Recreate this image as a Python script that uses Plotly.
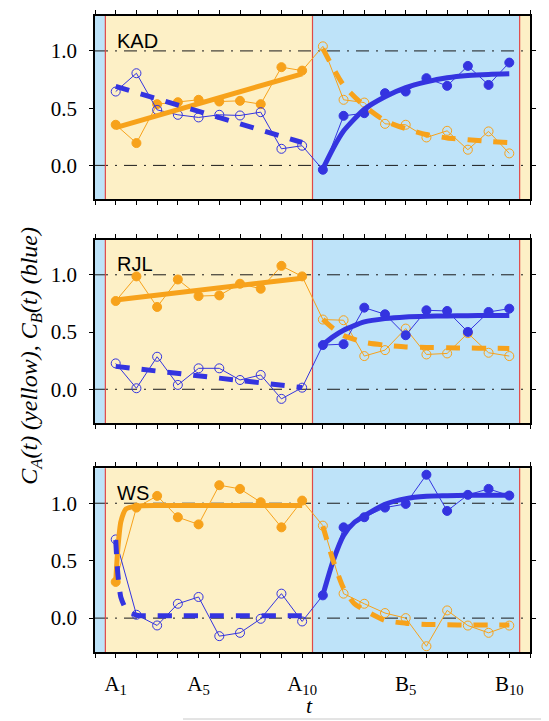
import plotly.graph_objects as go
from plotly.subplots import make_subplots

# ---------------- data ----------------
panels = ["KAD", "RJL", "WS"]
t_A = [1, 2, 3, 4, 5, 6, 7, 8, 9, 10]
t_B = [11, 12, 13, 14, 15, 16, 17, 18, 19, 20]

# observed values (A phase: C_A filled orange, C_B open blue; B phase: C_A open orange, C_B filled blue)
KAD_CA = [0.355, 0.195, 0.535, 0.552, 0.573, 0.558, 0.564, 0.535, 0.858, 0.828,
          1.04, 0.573, 0.549, 0.363, 0.355, 0.244, 0.302, 0.137, 0.297, 0.105]
KAD_CB = [0.645, 0.805, 0.485, 0.442, 0.419, 0.442, 0.436, 0.465, 0.145, 0.172,
          -0.038, 0.433, 0.456, 0.631, 0.645, 0.762, 0.695, 0.869, 0.703, 0.898]
RJL_CA = [0.771, 0.986, 0.719, 0.959, 0.814, 0.820, 0.922, 0.878, 1.078, 0.986,
          0.609, 0.603, 0.29, 0.342, 0.530, 0.304, 0.313, 0.49, 0.319, 0.29]
RJL_CB = [0.226, 0.009, 0.284, 0.038, 0.183, 0.183, 0.081, 0.125, -0.084, 0.014,
          0.386, 0.394, 0.713, 0.655, 0.472, 0.690, 0.684, 0.501, 0.675, 0.704]
WS_CA = [0.315, 0.962, 1.064, 0.878, 0.816, 1.157, 1.125, 1.009, 0.790, 1.023,
         0.805, 0.213, 0.125, 0.044, 0.0, -0.245, 0.067, -0.065, -0.128, -0.065]
WS_CB = [0.685, 0.029, -0.064, 0.125, 0.184, -0.157, -0.128, -0.006, 0.213, -0.029,
         0.198, 0.790, 0.878, 0.962, 0.994, 1.248, 0.933, 1.073, 1.125, 1.067]

# model fits
KAD_fitA_t = [1, 10]
KAD_fitA_CA = [0.33, 0.80]
KAD_fitA_CB = [0.69, 0.20]
KAD_fitB_t = [11, 11.5, 12, 13, 14, 15, 16, 17, 18, 19, 20]
KAD_fitB_CB = [-0.03, 0.15, 0.30, 0.49, 0.60, 0.68, 0.73, 0.765, 0.785, 0.795, 0.80]
KAD_fitB_CA = [1.02, 0.85, 0.70, 0.52, 0.39, 0.32, 0.27, 0.24, 0.225, 0.21, 0.20]

RJL_fitA_t = [1, 10]
RJL_fitA_CA = [0.78, 0.97]
RJL_fitA_CB = [0.20, 0.015]
RJL_fitB_t = [11, 11.5, 12, 13, 14, 15, 16, 17, 18, 19, 20]
RJL_fitB_CB = [0.39, 0.46, 0.516, 0.588, 0.617, 0.632, 0.638, 0.641, 0.643, 0.644, 0.645]
RJL_fitB_CA = [0.61, 0.53, 0.47, 0.41, 0.385, 0.37, 0.365, 0.362, 0.36, 0.358, 0.357]

WS_fitA_t = [1, 1.1, 1.25, 1.5, 2, 3, 4, 5, 6, 7, 8, 9, 10]
WS_fitA_CA = [0.32, 0.60, 0.84, 0.95, 0.975, 0.98, 0.98, 0.98, 0.98, 0.98, 0.98, 0.98, 0.98]
WS_fitA_CB = [0.68, 0.39, 0.18, 0.08, 0.025, 0.02, 0.02, 0.02, 0.02, 0.02, 0.02, 0.02, 0.02]
WS_fitB_t = [11, 11.5, 12, 12.5, 13, 14, 15, 16, 17, 18, 19, 20]
WS_fitB_CB = [0.20, 0.50, 0.72, 0.83, 0.89, 0.99, 1.04, 1.06, 1.065, 1.07, 1.07, 1.07]
WS_fitB_CA = [0.80, 0.50, 0.26, 0.13, 0.07, -0.02, -0.044, -0.055, -0.058, -0.06, -0.06, -0.06]

x_tickvals = [1, 5, 10, 15, 20]
x_ticktext = ["A<sub>1</sub>", "A<sub>5</sub>", "A<sub>10</sub>", "B<sub>5</sub>", "B<sub>10</sub>"]
y_tickvals = [0.0, 0.5, 1.0]
y_ticktext = ["0.0", "0.5", "1.0"]

# ---------------- style ----------------
ORANGE = "#F7A21B"
BLUE = "#3434E0"
BG_YELLOW = "#FDF0C6"
BG_BLUE = "#BEE3F9"
RED = "#E04848"
SERIF = "Liberation Serif, Times New Roman, serif"
SANS = "Liberation Sans, Arial, sans-serif"

fig = make_subplots(rows=3, cols=1, vertical_spacing=0.072)
domains = [[0.712, 1.0], [0.36, 0.648], [0.0, 0.289]]

data = {
    "KAD": (KAD_CA, KAD_CB, KAD_fitA_t, KAD_fitA_CA, KAD_fitA_CB, KAD_fitB_t, KAD_fitB_CA, KAD_fitB_CB),
    "RJL": (RJL_CA, RJL_CB, RJL_fitA_t, RJL_fitA_CA, RJL_fitA_CB, RJL_fitB_t, RJL_fitB_CA, RJL_fitB_CB),
    "WS": (WS_CA, WS_CB, WS_fitA_t, WS_fitA_CA, WS_fitA_CB, WS_fitB_t, WS_fitB_CA, WS_fitB_CB),
}

t_all = t_A + t_B
nA = len(t_A)
x_lo, x_hi = 0, t_B[-1] + 1
b1 = t_A[0] - 0.5
b2 = t_A[-1] + 0.5
b3 = t_B[-1] + 0.5

for r, name in enumerate(panels, start=1):
    CA, CB, fAt, fACA, fACB, fBt, fBCA, fBCB = data[name]
    xr = "x" if r == 1 else f"x{r}"
    yr = "y" if r == 1 else f"y{r}"

    # background phases
    for (x0, x1, col) in [(x_lo, b1, BG_BLUE), (b1, b2, BG_YELLOW), (b2, b3, BG_BLUE), (b3, x_hi, BG_YELLOW)]:
        fig.add_shape(type="rect", xref=xr, yref=f"{yr} domain", x0=x0, x1=x1, y0=0, y1=1,
                      fillcolor=col, line_width=0, layer="below")
    # reference lines
    for yv in [0.0, 1.0]:
        fig.add_shape(type="line", xref=f"{xr} domain", yref=yr, x0=0, x1=1, y0=yv, y1=yv,
                      line=dict(color="#1A1A1A", width=1, dash="13px,7px,2px,7px"), layer="below")
    for xv in [b1, b2, b3]:
        fig.add_shape(type="line", xref=xr, yref=f"{yr} domain", x0=xv, x1=xv, y0=0, y1=1,
                      line=dict(color=RED, width=1.2), layer="below")

    symA = ["circle"] * nA + ["circle-open"] * (len(t_all) - nA)
    symB = ["circle-open"] * nA + ["circle"] * (len(t_all) - nA)
    fig.add_trace(go.Scatter(x=t_all, y=CA, mode="lines+markers",
                             line=dict(color=ORANGE, width=1),
                             marker=dict(symbol=symA, size=9, color=ORANGE, line=dict(color=ORANGE, width=1)),
                             showlegend=False), row=r, col=1)
    fig.add_trace(go.Scatter(x=t_all, y=CB, mode="lines+markers",
                             line=dict(color=BLUE, width=1),
                             marker=dict(symbol=symB, size=9, color=BLUE, line=dict(color=BLUE, width=1)),
                             showlegend=False), row=r, col=1)
    # fits
    fig.add_trace(go.Scatter(x=fAt, y=fACA, mode="lines", line=dict(color=ORANGE, width=5, shape="spline", smoothing=0.6),
                             showlegend=False), row=r, col=1)
    fig.add_trace(go.Scatter(x=fAt, y=fACB, mode="lines", line=dict(color=BLUE, width=5, dash="14px,12px", shape="spline", smoothing=0.6),
                             showlegend=False), row=r, col=1)
    fig.add_trace(go.Scatter(x=fBt, y=fBCB, mode="lines", line=dict(color=BLUE, width=5, shape="spline", smoothing=0.6),
                             showlegend=False), row=r, col=1)
    fig.add_trace(go.Scatter(x=fBt, y=fBCA, mode="lines", line=dict(color=ORANGE, width=5, dash="14px,12px", shape="spline", smoothing=0.6),
                             showlegend=False), row=r, col=1)

    fig.add_annotation(x=0.97, y=1.09, xref=xr, yref=yr, text=name, showarrow=False,
                       xanchor="left", yanchor="middle", font=dict(family=SANS, size=20, color="black"))

    fig.update_xaxes(row=r, col=1, range=[x_lo, x_hi], domain=[0, 1], automargin=False,
                     tickmode="array", tickvals=list(range(x_lo, x_hi + 1)),
                     ticktext=[(x_ticktext[x_tickvals.index(v)] if v in x_tickvals else "") for v in range(x_lo, x_hi + 1)],
                     showticklabels=(r == 3), ticks="outside", ticklen=4, tickwidth=1, tickcolor="black",
                     showline=True, linecolor="black", linewidth=1.5, mirror="ticks",
                     showgrid=False, zeroline=False,
                     tickfont=dict(family=SERIF, size=21, color="black"), ticklabelstandoff=8)
    fig.update_yaxes(row=r, col=1, range=[-0.295, 1.305], domain=domains[r - 1], automargin=False,
                     tickmode="array", tickvals=y_tickvals, ticktext=y_ticktext,
                     ticks="outside", ticklen=4, tickwidth=1, tickcolor="black",
                     showline=True, linecolor="black", linewidth=1.5, mirror="ticks",
                     showgrid=False, zeroline=False,
                     tickfont=dict(family=SERIF, size=21, color="black"), ticklabelstandoff=8)

fig.add_annotation(x=-0.149, y=0.466, xref="paper", yref="paper",
                   text="<i>C<sub>A</sub>(t) (yellow), C<sub>B</sub>(t) (blue)</i>",
                   showarrow=False, textangle=-90, xanchor="center", yanchor="middle",
                   font=dict(family=SERIF, size=24, color="black"))
fig.add_annotation(x=0.493, y=-0.084, xref="paper", yref="paper", text="<i>t</i>",
                   showarrow=False, xanchor="center", yanchor="middle",
                   font=dict(family=SERIF, size=22, color="black"))
fig.add_shape(type="line", xref="paper", yref="paper", x0=(183 - 95) / 435, x1=(549 - 95) / 435,
              y0=(652 - 719) / 636, y1=(652 - 719) / 636, line=dict(color="#C8C8C8", width=1))

# page body has an 8px margin, so the figure is 8px smaller and margins shifted accordingly
fig.update_layout(width=541, height=713, margin=dict(l=87, r=19, t=8, b=69, autoexpand=False),
                  paper_bgcolor="white", plot_bgcolor="white", showlegend=False)

fig.write_html("out.html")
